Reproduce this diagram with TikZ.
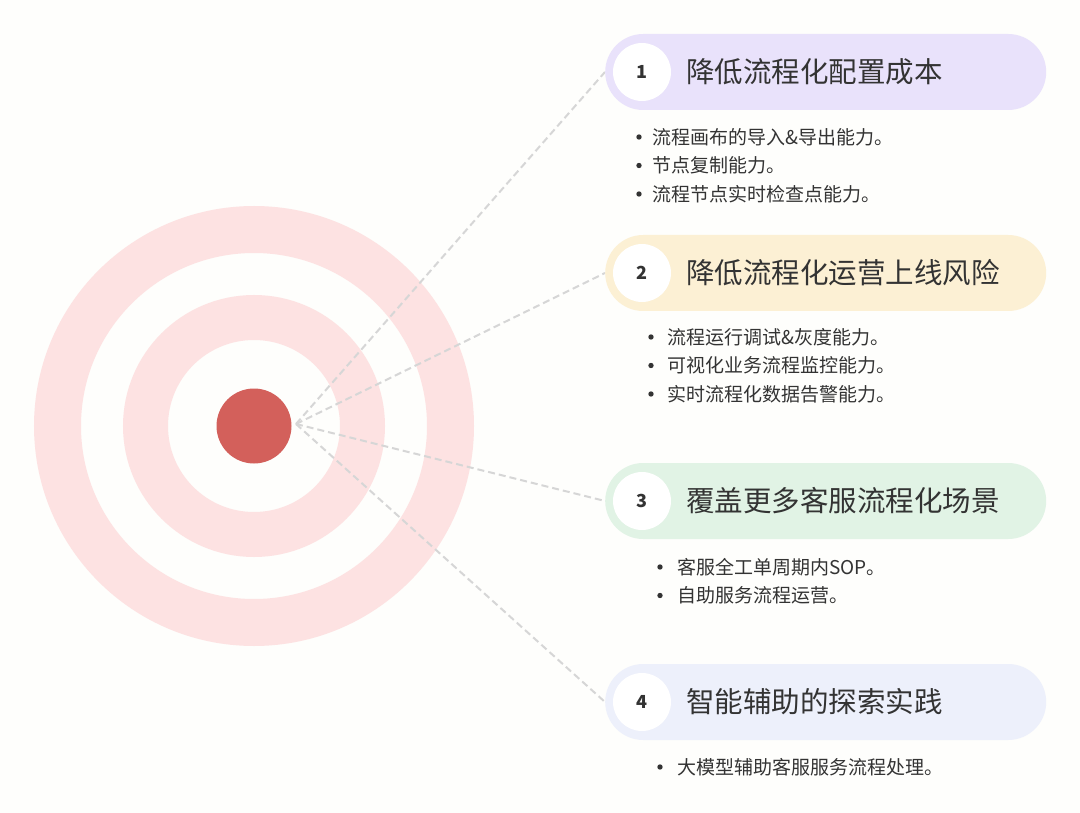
\documentclass[tikz,border=0pt]{standalone}
\usepackage{fontspec}
\setmainfont{Noto Sans CJK SC}
\usetikzlibrary{positioning}

\definecolor{bgwhite}{HTML}{FEFEFC}
\definecolor{ringpink}{HTML}{FDE2E2}
\definecolor{dotred}{HTML}{D3605B}
\definecolor{linegray}{HTML}{D6D6D6}
\definecolor{txtgray}{HTML}{333333}
\definecolor{boxA}{HTML}{E9E2FB}
\definecolor{boxB}{HTML}{FCF0D4}
\definecolor{boxC}{HTML}{E1F3E5}
\definecolor{boxD}{HTML}{EDF0FB}

\tikzset{
  pill/.style={rounded corners=38pt, minimum width=441pt, minimum height=76pt, inner sep=0pt, anchor=west},
  numdot/.style={circle, fill=white, minimum size=58pt, inner sep=0pt, text=txtgray,
    font=\bfseries\fontsize{18}{20}\selectfont},
  title/.style={anchor=west, inner sep=0pt, text=txtgray, font=\fontsize{28.5}{32}\selectfont},
  item/.style={anchor=west, inner sep=0pt, text=txtgray, font=\fontsize{19}{22}\selectfont},
  link/.style={draw=linegray, line width=2pt, dash pattern=on 7pt off 4pt},
}

\begin{document}
\begin{tikzpicture}[x=1pt, y=-1pt]
\useasboundingbox[fill=bgwhite] (0,0) rectangle (1080,813);

% target
\draw[ringpink, line width=47pt] (254,426) circle (196.5);
\draw[ringpink, line width=45pt] (254,426) circle (108.5);
\node[circle, fill=dotred, minimum size=75pt, inner sep=0pt] (bull) at (254,426) {};
\coordinate (hub) at (296,424);

% headings
\foreach \i/\y/\col/\txt in {1/72/boxA/降低流程化配置成本,
                             2/273/boxB/降低流程化运营上线风险,
                             3/501/boxC/覆盖更多客服流程化场景,
                             4/702/boxD/智能辅助的探索实践} {
  \draw[link] (hub) -- (605,\y);
  \node[pill, fill=\col] (box\i) at (605,\y) {};
  \node[numdot] (num\i) at (642,\y) {\i};
  \node[title] (title\i) at (686,\y) {\txt};
}

% bullet lists
\foreach \txt [count=\k] in {流程画布的导入\&导出能力。, 节点复制能力。, 流程节点实时检查点能力。} {
  \node[item] (itemA\k) at (652,{137+28.5*(\k-1)}) {\txt};
  \fill[txtgray] ([xshift=-13pt]itemA\k.west) circle (2.7);
}
\foreach \txt [count=\k] in {流程运行调试\&灰度能力。, 可视化业务流程监控能力。, 实时流程化数据告警能力。} {
  \node[item] (itemB\k) at (667,{337+28.5*(\k-1)}) {\txt};
  \fill[txtgray] ([xshift=-16pt]itemB\k.west) circle (2.7);
}
\foreach \txt [count=\k] in {客服全工单周期内SOP。, 自助服务流程运营。} {
  \node[item] (itemC\k) at (677,{567+28.5*(\k-1)}) {\txt};
  \fill[txtgray] ([xshift=-17pt]itemC\k.west) circle (2.7);
}
\node[item] (itemD1) at (677,767) {大模型辅助客服服务流程处理。};
\fill[txtgray] ([xshift=-17pt]itemD1.west) circle (2.7);
\end{tikzpicture}
\end{document}
